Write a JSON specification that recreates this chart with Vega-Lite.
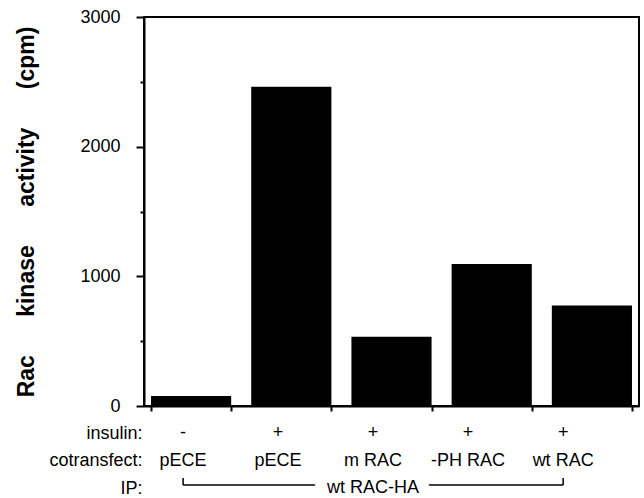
{
  "$schema": "https://vega.github.io/schema/vega-lite/v6.json",
  "padding": {"left": 14, "top": 7, "right": 6, "bottom": 0},
  "background": "white",
  "config": {
    "font": "Liberation Sans",
    "view": {"stroke": null},
    "axis": {
      "labelFont": "Liberation Sans",
      "labelColor": "black",
      "domainColor": "black",
      "tickColor": "black",
      "titleColor": "black",
      "titleFont": "Liberation Sans",
      "grid": false
    }
  },
  "datasets": {
    "bars": [
      {"id": 1, "insulin": "-", "cotransfect": "pECE", "activity": 77},
      {"id": 2, "insulin": "+", "cotransfect": "pECE", "activity": 2462},
      {"id": 3, "insulin": "+", "cotransfect": "m RAC", "activity": 534},
      {"id": 4, "insulin": "+", "cotransfect": "-PH RAC", "activity": 1095},
      {"id": 5, "insulin": "+", "cotransfect": "wt RAC", "activity": 776}
    ],
    "ip": [
      {"from": 1, "to": 5, "mid": 3, "label": "wt RAC-HA"}
    ]
  },
  "spacing": 8,
  "resolve": {"scale": {"x": "independent", "y": "independent"}},
  "vconcat": [
    {
      "data": {"name": "bars"},
      "width": 495,
      "height": 389,
      "view": {"stroke": "black", "strokeWidth": 2},
      "mark": {"type": "bar", "color": "black"},
      "encoding": {
        "x": {
          "field": "id",
          "type": "ordinal",
          "scale": {"paddingInner": 0.2, "paddingOuter": 0.07},
          "axis": {"labels": false, "title": null, "tickBand": "extent", "tickSize": 5, "tickWidth": 2, "domainWidth": 2}
        },
        "y": {
          "field": "activity",
          "type": "quantitative",
          "scale": {"domain": [0, 3000], "nice": false},
          "axis": {
            "values": [0, 500, 1000, 1500, 2000, 2500, 3000],
            "format": "d",
            "labelExpr": "datum.value % 1000 === 0 ? datum.label : ''",
            "tickSize": {"condition": {"test": "datum.value % 1000 === 0", "value": 8}, "value": 4},
            "tickWidth": 2,
            "domainWidth": 2,
            "labelFontSize": 18,
            "labelPadding": 16,
            "title": "Rac\u00a0\u00a0\u00a0\u00a0\u00a0\u00a0kinase\u00a0\u00a0\u00a0\u00a0\u00a0\u00a0activity\u00a0\u00a0\u00a0\u00a0\u00a0\u00a0(cpm)",
            "titleFontSize": 23,
            "titleFontWeight": "bold",
            "titlePadding": 41
          }
        }
      }
    },
    {
      "width": 495,
      "height": 55,
      "view": {"stroke": null},
      "resolve": {"scale": {"y": "independent"}},
      "layer": [
        {
          "data": {"name": "ip"},
          "layer": [
            {
              "mark": {"type": "rule", "color": "black", "strokeWidth": 1.5},
              "encoding": {
                "x": {"field": "from", "type": "ordinal", "scale": {"type": "point", "domain": [1, 2, 3, 4, 5], "padding": 0.605, "align": 0.34}, "axis": null},
                "x2": {"field": "to"},
                "y": {"datum": 0.11, "type": "quantitative", "scale": {"domain": [0, 2], "nice": false}, "axis": null}
              }
            },
            {
              "mark": {"type": "rule", "color": "black", "strokeWidth": 1.5},
              "encoding": {
                "x": {"field": "from", "type": "ordinal", "scale": {"type": "point", "domain": [1, 2, 3, 4, 5], "padding": 0.605, "align": 0.34}, "axis": null},
                "y": {"datum": 0.11, "type": "quantitative", "scale": {"domain": [0, 2], "nice": false}, "axis": null},
                "y2": {"datum": 0.36}
              }
            },
            {
              "mark": {"type": "rule", "color": "black", "strokeWidth": 1.5},
              "encoding": {
                "x": {"field": "to", "type": "ordinal", "scale": {"type": "point", "domain": [1, 2, 3, 4, 5], "padding": 0.605, "align": 0.34}, "axis": null},
                "y": {"datum": 0.11, "type": "quantitative", "scale": {"domain": [0, 2], "nice": false}, "axis": null},
                "y2": {"datum": 0.36}
              }
            }
          ]
        },
        {
          "layer": [
            {
              "data": {"name": "ip"},
              "mark": {"type": "text", "fontSize": 18, "font": "Liberation Sans", "fill": "white", "stroke": "white", "strokeWidth": 24, "baseline": "middle"},
              "encoding": {
                "x": {"field": "mid", "type": "ordinal", "scale": {"type": "point", "domain": [1, 2, 3, 4, 5], "padding": 0.605, "align": 0.34}, "axis": null},
                "y": {"datum": "IP", "type": "nominal"},
                "text": {"field": "label"}
              }
            },
            {
              "data": {"name": "ip"},
              "mark": {"type": "text", "fontSize": 18, "font": "Liberation Sans", "color": "black", "baseline": "middle"},
              "encoding": {
                "x": {"field": "mid", "type": "ordinal", "scale": {"type": "point", "domain": [1, 2, 3, 4, 5], "padding": 0.605, "align": 0.34}, "axis": null},
                "y": {"datum": "IP", "type": "nominal"},
                "text": {"field": "label"}
              }
            },
            {
              "data": {"name": "bars"},
              "transform": [{"fold": ["insulin", "cotransfect"], "as": ["row", "label"]}],
              "mark": {"type": "text", "fontSize": 18, "font": "Liberation Sans", "color": "black", "baseline": "middle"},
              "encoding": {
                "x": {"field": "id", "type": "ordinal", "scale": {"type": "point", "domain": [1, 2, 3, 4, 5], "padding": 0.605, "align": 0.34}, "axis": null},
                "y": {
                  "field": "row",
                  "type": "nominal",
                  "scale": {"type": "point", "domain": ["insulin", "cotransfect", "IP"], "padding": 0},
                  "axis": {"title": null, "domain": false, "ticks": false, "labelPadding": 2, "labelFontSize": 18, "labelExpr": "datum.label + ':'"}
                },
                "text": {"field": "label"}
              }
            }
          ]
        }
      ]
    }
  ]
}
